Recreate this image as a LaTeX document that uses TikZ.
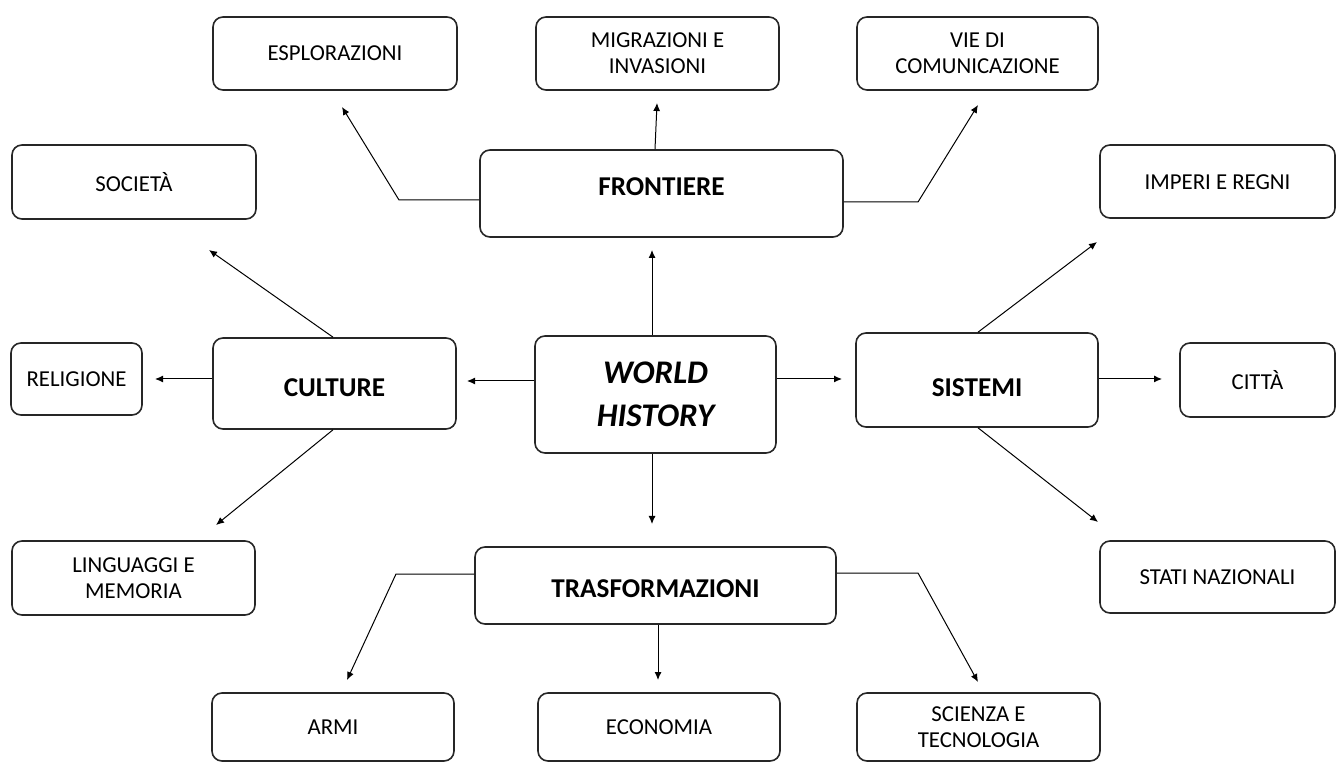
\documentclass[tikz,border=0pt]{standalone}
\usepackage{fontspec}
\setmainfont{Carlito}
\usetikzlibrary{arrows.meta}
\begin{document}
\begin{tikzpicture}[x=0.5pt,y=-0.5pt,
  box/.style={draw=black!85, line width=0.8pt, rounded corners=5pt, inner sep=0pt, align=center,
    font=\fontsize{11.4}{13}\selectfont},
  bbox/.style={box, font=\fontsize{13.6}{16}\selectfont\bfseries},
  whbox/.style={box, font=\fontsize{16.5}{21.5}\selectfont\bfseries\itshape},
  arr/.style={draw=black, line width=0.5pt, -{Latex[length=4pt,width=3.5pt]}},
  ln/.style={draw=black, line width=0.5pt}
]
\useasboundingbox (0,0) rectangle (1336,763);

% central
\node[whbox, minimum width=120.5pt, minimum height=58.5pt] (wh) at (655.5,394.5) {WORLD\\HISTORY};

% main categories
\node[bbox, minimum width=181.5pt, minimum height=43.5pt, text depth=7pt] (fro) at (661.5,193.5) {FRONTIERE};
\node[bbox, minimum width=121.5pt, minimum height=45.5pt, text height=13pt] (cul) at (334.5,383.5) {CULTURE};
\node[bbox, minimum width=121pt, minimum height=47pt, text height=16.5pt] (sis) at (977,380) {SISTEMI};
\node[bbox, minimum width=180.5pt, minimum height=38.5pt, text height=12pt] (tra) at (655.5,585.5) {TRASFORMAZIONI};

% leaves
\node[box, minimum width=122pt, minimum height=36.5pt] (esp) at (335,53.5) {ESPLORAZIONI};
\node[box, minimum width=121.5pt, minimum height=36.5pt] (mig) at (657.5,53.5) {MIGRAZIONI E\\INVASIONI};
\node[box, minimum width=120.5pt, minimum height=36.5pt] (vie) at (977.5,53.5) {VIE DI\\COMUNICAZIONE};
\node[box, minimum width=122pt, minimum height=37pt] (soc) at (134,182) {SOCIETÀ};
\node[box, minimum width=117.5pt, minimum height=36.5pt, text height=8.5pt] (imp) at (1217.5,181.5) {IMPERI E REGNI};
\node[box, minimum width=65.5pt, minimum height=36pt] (rel) at (76.5,379) {RELIGIONE};
\node[box, minimum width=77.5pt, minimum height=37pt] (cit) at (1257.5,380) {CITTÀ};
\node[box, minimum width=121.5pt, minimum height=37pt] (lin) at (133.5,578) {LINGUAGGI E\\MEMORIA};
\node[box, minimum width=117.5pt, minimum height=36pt] (sta) at (1217.5,577) {STATI NAZIONALI};
\node[box, minimum width=121pt, minimum height=34pt] (arm) at (333,727) {ARMI};
\node[box, minimum width=121pt, minimum height=34pt] (eco) at (659,727) {ECONOMIA};
\node[box, minimum width=121.5pt, minimum height=34pt] (sci) at (978.5,727) {SCIENZA E\\TECNOLOGIA};

% free ends and bends
\coordinate (cEsp) at (399,200);
\coordinate (tEsp) at (342,107);
\coordinate (tMig) at (657,103);
\coordinate (cVie) at (918,202);
\coordinate (tVie) at (978,105);
\coordinate (tFro) at (652,250);
\coordinate (tCul) at (467,381);
\coordinate (tSis) at (842,379);
\coordinate (tTra) at (652,524);
\coordinate (tSoc) at (209,250);
\coordinate (tRel) at (155,379);
\coordinate (tLin) at (216,525);
\coordinate (tImp) at (1097,242);
\coordinate (tCit) at (1162,379);
\coordinate (tSta) at (1098,522);
\coordinate (cArm) at (396,574);
\coordinate (tArm) at (347,680);
\coordinate (tEco) at (658,680);
\coordinate (cSci) at (918,573);
\coordinate (tSci) at (978,682);

% FRONTIERE branches
\draw[arr] (fro.west |- cEsp) -- (cEsp) -- (tEsp);
\draw[arr] (fro.north -| 655,0) -- (tMig);
\draw[arr] (fro.east |- cVie) -- (cVie) -- (tVie);

% WORLD HISTORY branches
\draw[arr] (wh.north -| tFro) -- (tFro);
\draw[arr] (wh.west |- tCul) -- (tCul);
\draw[arr] (wh.east |- tSis) -- (tSis);
\draw[arr] (wh.south -| tTra) -- (tTra);

% CULTURE branches
\draw[arr] (cul.north -| 333,0) -- (tSoc);
\draw[arr] (cul.west |- tRel) -- (tRel);
\draw[arr] (cul.south -| 333,0) -- (tLin);

% SISTEMI branches
\draw[arr] (sis.north -| 978,0) -- (tImp);
\draw[arr] (sis.east |- tCit) -- (tCit);
\draw[arr] (sis.south -| 978,0) -- (tSta);

% TRASFORMAZIONI branches
\draw[arr] (tra.west |- cArm) -- (cArm) -- (tArm);
\draw[arr] (tra.south -| tEco) -- (tEco);
\draw[arr] (tra.east |- cSci) -- (cSci) -- (tSci);
\end{tikzpicture}
\end{document}
